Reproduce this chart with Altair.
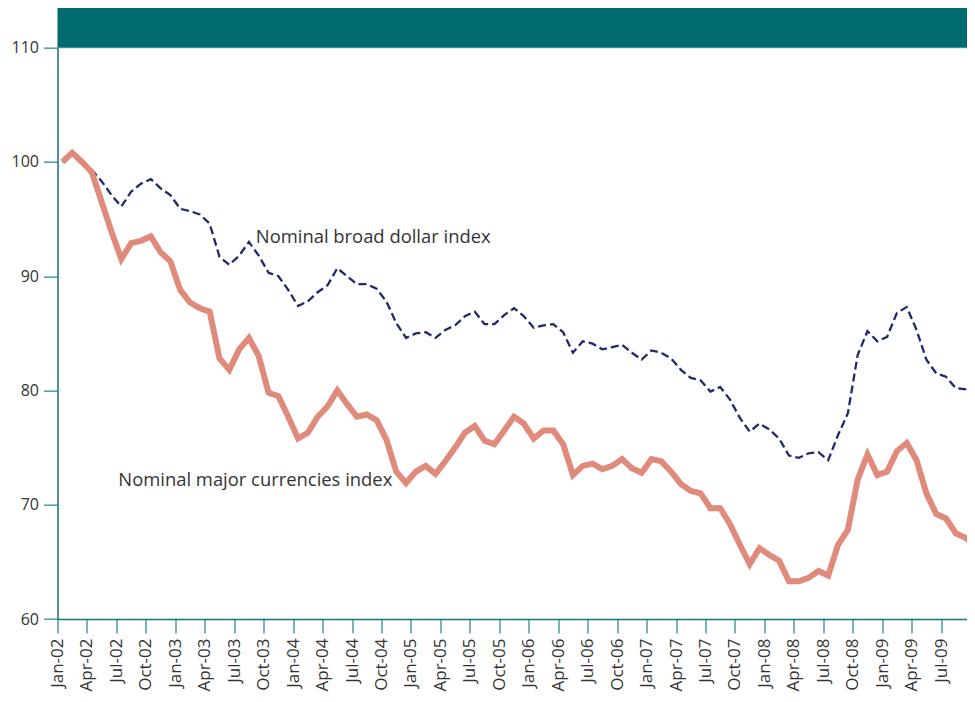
import json
import altair as alt
import pandas as pd

# ---- data (monthly, Jan-02 .. Oct-09, index 2002-01 = 100) ----
major_index = [100.0, 100.8, 100.0, 99.1, 96.5, 93.9, 91.5, 92.9, 93.1, 93.5,
               92.1, 91.3, 88.8, 87.7, 87.2, 86.9, 82.8, 81.8, 83.6, 84.6,
               83.0, 79.8, 79.5, 77.7, 75.8, 76.3, 77.7, 78.6, 80.0, 78.8,
               77.7, 77.9, 77.4, 75.7, 72.9, 71.9, 72.9, 73.4, 72.7, 73.8,
               75.0, 76.3, 76.9, 75.6, 75.3, 76.5, 77.7, 77.1, 75.8, 76.5,
               76.5, 75.3, 72.6, 73.4, 73.6, 73.1, 73.4, 74.0, 73.2, 72.8,
               74.0, 73.8, 72.9, 71.8, 71.2, 71.0, 69.7, 69.7, 68.3, 66.5,
               64.8, 66.2, 65.6, 65.1, 63.3, 63.3, 63.6, 64.2, 63.8, 66.5,
               67.8, 72.2, 74.4, 72.6, 72.9, 74.7, 75.4, 73.9, 71.0, 69.2,
               68.8, 67.5, 67.1, 66.4]
broad_index = [100.0, 100.6, 99.9, 99.3, 98.3, 97.1, 96.1, 97.4, 98.1, 98.5,
               97.7, 97.1, 95.9, 95.7, 95.4, 94.6, 91.7, 91.0, 91.8, 93.0,
               91.8, 90.3, 90.0, 88.8, 87.4, 87.8, 88.6, 89.2, 90.7, 90.0,
               89.3, 89.3, 88.9, 87.8, 85.9, 84.6, 85.0, 85.1, 84.6, 85.3,
               85.7, 86.5, 86.9, 85.8, 85.8, 86.6, 87.2, 86.5, 85.5, 85.7,
               85.8, 85.1, 83.3, 84.3, 84.1, 83.6, 83.8, 84.0, 83.3, 82.7,
               83.5, 83.3, 82.8, 81.8, 81.1, 80.9, 79.9, 80.3, 79.2, 77.6,
               76.4, 77.1, 76.6, 75.8, 74.3, 74.1, 74.5, 74.6, 73.9, 76.1,
               78.0, 83.1, 85.2, 84.3, 84.7, 86.8, 87.3, 85.3, 82.7, 81.5,
               81.2, 80.2, 80.1, 79.2]
tick_labels = ["Jan-02", "Apr-02", "Jul-02", "Oct-02", "Jan-03", "Apr-03", "Jul-03", "Oct-03",
               "Jan-04", "Apr-04", "Jul-04", "Oct-04", "Jan-05", "Apr-05", "Jul-05", "Oct-05",
               "Jan-06", "Apr-06", "Jul-06", "Oct-06", "Jan-07", "Apr-07", "Jul-07", "Oct-07",
               "Jan-08", "Apr-08", "Jul-08", "Oct-08", "Jan-09", "Apr-09", "Jul-09", "Oct-09"]
y_ticks = [60, 70, 80, 90, 100, 110]
label_text = ["Nominal broad dollar index", "Nominal major currencies index"]
label_x = [20.2, 6.2]      # month index where the label starts
label_y = [92.9, 71.6]     # index value at label baseline

# ---- tables ----
n = len(major_index)
df = pd.DataFrame({
    "t": [i + 0.5 for i in range(n)],
    "major": major_index,
    "broad": broad_index,
})
ann = pd.DataFrame({"text": label_text, "x": label_x, "y": label_y})

MONTH_PX = 9.818
W, H = 909.5, 571.3
TEAL = "#006B6F"
TEXT = "#333333"
FONT = "Open Sans"

label_expr = json.dumps(tick_labels) + "[round(datum.value / 3)]"

x_scale = alt.Scale(domain=[0, W / MONTH_PX], nice=False, zero=False)
y_scale = alt.Scale(domain=[60, 110], nice=False, zero=False)

x_axis = alt.Axis(
    values=list(range(0, 3 * len(tick_labels), 3)), labelExpr=label_expr,
    title=None, grid=False, labelAngle=270, labelFontSize=17, labelFont=FONT,
    labelColor=TEXT, labelPadding=5, tickSize=14, tickWidth=1.5, tickColor="#4a9fa2",
    domainColor="#1b7377", domainWidth=1.5, labelOverlap=False, labelFlush=False,
    labelBound=False,
)
y_axis = alt.Axis(
    values=y_ticks, title=None, grid=False, labelFontSize=16, labelFont=FONT,
    labelColor=TEXT, labelPadding=5, tickSize=14, tickWidth=1.5, tickColor="#4a9fa2",
    domainColor="#1b7377", domainWidth=1.5, labelOverlap=False,
)

base = alt.Chart(df)

broad_line = base.mark_line(color="#1F2A6E", strokeWidth=2.3, strokeDash=[8, 4], clip=True).encode(
    x=alt.X("t:Q", scale=x_scale, axis=x_axis),
    y=alt.Y("broad:Q", scale=y_scale, axis=y_axis),
)
major_line = base.mark_line(color="#E08A7C", strokeWidth=6, strokeJoin="miter", clip=True).encode(
    x=alt.X("t:Q", scale=x_scale, axis=x_axis),
    y=alt.Y("major:Q", scale=y_scale, axis=y_axis),
)
labels = alt.Chart(ann).mark_text(
    align="left", baseline="alphabetic", fontSize=18.4, font=FONT, color=TEXT
).encode(
    x=alt.X("x:Q", scale=x_scale, axis=x_axis),
    y=alt.Y("y:Q", scale=y_scale, axis=y_axis),
    text="text:N",
)
header = alt.Chart(pd.DataFrame({"a": [0]})).mark_rect(color=TEAL).encode(
    x=alt.value(0), x2=alt.value(W), y=alt.value(-39.7), y2=alt.value(0)
)

chart = alt.layer(broad_line, major_line, labels, header).properties(
    width=W, height=H,
    autosize=alt.AutoSizeParams(type="none"),
    padding={"left": 49.5, "top": 39.7, "right": 0, "bottom": 75},
).configure_view(fill="#FBF4E6", stroke=None).configure(background="white")

chart.save("out.html", embed_options={"renderer": "svg", "actions": False})
